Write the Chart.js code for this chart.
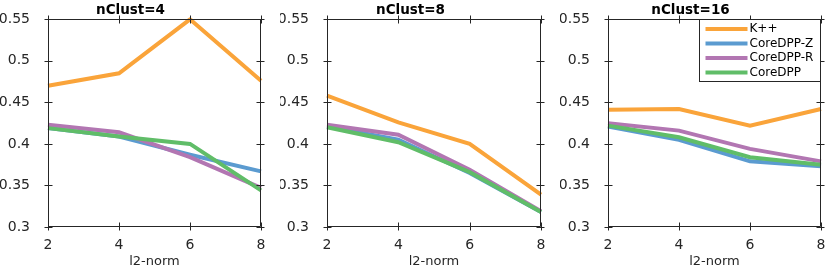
<!DOCTYPE html>
<html>
<head>
<meta charset="utf-8">
<script src="https://cdn.jsdelivr.net/npm/chart.js@4.4.1/dist/chart.umd.min.js"></script>
<style>
    html, body { margin: 0; padding: 0; background: #fff; }
    #wrap { position: relative; width: 831px; height: 271px; }
    #wrap canvas { position: absolute; top: 0; }
</style>
</head>
<body>
<div id="wrap">
    <canvas id="c4" width="280" height="271" style="left:0px"></canvas>
    <canvas id="c8" width="280" height="271" style="left:280px"></canvas>
    <canvas id="c16" width="271" height="271" style="left:560px"></canvas>
</div>
<script>
// l2-norm values on the x axis
const norms = [2, 4, 6, 8];
const seriesNames = ['K++', 'CoreDPP-Z', 'CoreDPP-R', 'CoreDPP'];
const yTicks = [0.3, 0.35, 0.4, 0.45, 0.5, 0.55];

// nClust=4
const kpp4 = [0.470, 0.485, 0.550, 0.476];
const dppZ4 = [0.419, 0.409, 0.387, 0.367];
const dppR4 = [0.423, 0.414, 0.384, 0.347];
const dpp4 = [0.419, 0.409, 0.400, 0.344];

// nClust=8
const kpp8 = [0.458, 0.426, 0.400, 0.339];
const dppZ8 = [0.421, 0.405, 0.365, 0.318];
const dppR8 = [0.423, 0.411, 0.369, 0.319];
const dpp8 = [0.420, 0.402, 0.366, 0.318];

// nClust=16
const kpp16 = [0.441, 0.442, 0.422, 0.442];
const dppZ16 = [0.421, 0.405, 0.379, 0.373];
const dppR16 = [0.425, 0.416, 0.394, 0.379];
const dpp16 = [0.422, 0.408, 0.384, 0.375];

const colors = ['#FAA43A', '#5B9BD0', '#B276B2', '#60BD68'];
const axisColor = '#262626';
const fontFamily = '"DejaVu Sans", "Liberation Sans", sans-serif';

// box around the axes with ticks crossing each side
const boxTicks = {
    id: 'boxTicks',
    afterDraw(chart) {
        const { ctx, chartArea: a, scales } = chart;
        const l = Math.round(a.left) + 0.5, r = Math.round(a.right) - 0.5;
        const t = Math.round(a.top) + 0.5, b = Math.round(a.bottom) - 0.5;
        const len = 4;
        ctx.save();
        ctx.strokeStyle = axisColor;
        ctx.lineWidth = 1;
        ctx.beginPath();
        ctx.rect(l, t, r - l, b - t);
        scales.y.ticks.forEach(tk => {
            const y = Math.round(scales.y.getPixelForValue(tk.value)) + 0.5;
            ctx.moveTo(l - len, y); ctx.lineTo(l + len, y);
            ctx.moveTo(r - len, y); ctx.lineTo(r + len, y);
        });
        scales.x.ticks.forEach(tk => {
            const x = Math.round(scales.x.getPixelForValue(tk.value)) + 0.5;
            ctx.moveTo(x, t - len); ctx.lineTo(x, t + len);
            ctx.moveTo(x, b - len); ctx.lineTo(x, b + len);
        });
        ctx.stroke();
        ctx.restore();
    }
};

// legend drawn inside the top right corner of the axes
const innerLegend = {
    id: 'innerLegend',
    afterDraw(chart, args, opts) {
        if (!opts.show) return;
        const { ctx, chartArea: a } = chart;
        const w = 121, h = 62;
        const x0 = Math.round(a.right) - 1 - w + 0.5;
        const y0 = Math.round(a.top) + 0.5;
        ctx.save();
        ctx.fillStyle = '#fff';
        ctx.fillRect(x0, y0, w, h);
        ctx.strokeStyle = axisColor;
        ctx.lineWidth = 1;
        ctx.strokeRect(x0, y0, w, h);
        ctx.font = '12px ' + fontFamily;
        ctx.textBaseline = 'middle';
        chart.data.datasets.forEach((ds, i) => {
            const y = y0 + 9.5 + i * 14.5;
            ctx.strokeStyle = ds.borderColor;
            ctx.lineWidth = 4;
            ctx.beginPath();
            ctx.moveTo(x0 + 6, y);
            ctx.lineTo(x0 + 48, y);
            ctx.stroke();
            ctx.fillStyle = '#000';
            ctx.fillText(ds.label, x0 + 50, y);
        });
        ctx.restore();
    }
};

function makePanel(id, title, series, plotLeft, padRight, showLegend) {
    const ctx = document.getElementById(id);
    return new Chart(ctx, {
        type: 'line',
        data: {
            datasets: series.map((vals, i) => ({
                label: seriesNames[i],
                data: norms.map((x, j) => ({ x: x, y: vals[j] })),
                borderColor: colors[i],
                borderWidth: 4,
                pointRadius: 0,
                tension: 0,
                borderJoinStyle: 'miter',
                clip: 2,
                // later series are drawn on top
                order: series.length - i
            }))
        },
        options: {
            responsive: false,
            animation: false,
            layout: { padding: { left: 0, right: padRight, top: 0, bottom: 0 } },
            scales: {
                x: {
                    type: 'linear',
                    min: 2,
                    max: 8,
                    grid: { display: false },
                    border: { display: false },
                    ticks: {
                        stepSize: 2,
                        padding: 2,
                        color: axisColor,
                        font: { family: fontFamily, size: 14 }
                    },
                    title: {
                        display: true,
                        text: 'l2-norm',
                        color: axisColor,
                        font: { family: fontFamily, size: 13 },
                        padding: { top: 0, bottom: 2 }
                    },
                    afterFit: s => { s.height = 44; }
                },
                y: {
                    min: 0.3,
                    max: 0.55,
                    grid: { display: false },
                    border: { display: false },
                    afterBuildTicks: s => { s.ticks = yTicks.map(v => ({ value: v })); },
                    ticks: {
                        padding: 10,
                        color: axisColor,
                        font: { family: fontFamily, size: 14 },
                        callback: v => String(+Number(v).toFixed(2))
                    },
                    afterFit: s => { s.width = plotLeft; }
                }
            },
            plugins: {
                legend: { display: false },
                tooltip: { enabled: false },
                title: {
                    display: true,
                    text: title,
                    color: '#000',
                    font: { family: fontFamily, size: 13.5, weight: 'bold' },
                    padding: { top: 2.8, bottom: 0.3 }
                },
                innerLegend: { show: showLegend }
            }
        },
        plugins: [boxTicks, innerLegend]
    });
}

makePanel('c4', 'nClust=4', [kpp4, dppZ4, dppR4, dpp4], 48, 19, false);
makePanel('c8', 'nClust=8', [kpp8, dppZ8, dppR8, dpp8], 47, 19, false);
makePanel('c16', 'nClust=16', [kpp16, dppZ16, dppR16, dpp16], 48, 10, true);
</script>
</body>
</html>
